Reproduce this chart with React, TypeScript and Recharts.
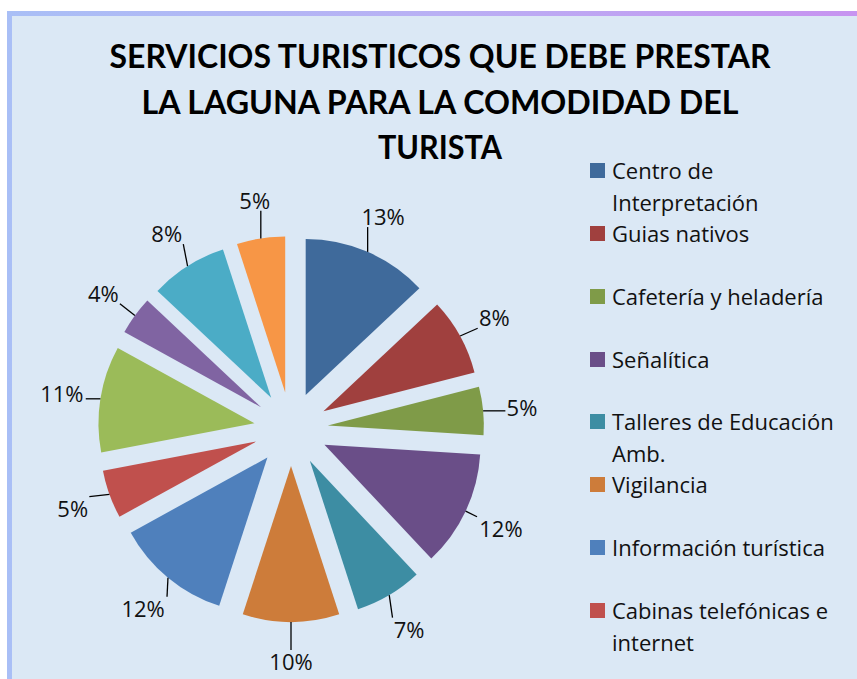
import React from "react"
import { PieChart, Pie, Cell, Sector, Legend } from "recharts"

// datos del gráfico
const legendNames = [
  "Centro de Interpretación",
  "Guias nativos",
  "Cafetería y heladería",
  "Señalítica",
  "Talleres de Educación Amb.",
  "Vigilancia",
  "Información turística",
  "Cabinas telefónicas e internet",
]

const sliceValues = [13, 8, 5, 12, 7, 10, 12, 5, 11, 4, 8, 5]

const sliceColors = [
  "#3f6a9b",
  "#a0403e",
  "#7f9b48",
  "#6a4e88",
  "#3d8da3",
  "#cd7c3a",
  "#4f80bc",
  "#c0504d",
  "#9bbb59",
  "#8064a2",
  "#4bacc6",
  "#f79646",
]

const titleLines = [
  "SERVICIOS TURISTICOS QUE DEBE PRESTAR",
  "LA LAGUNA PARA LA COMODIDAD DEL",
  "TURISTA",
]

const data = sliceValues.map((value, i) => ({
  name: legendNames[i] ?? `Servicio ${i + 1}`,
  value,
}))

const W = 857
const H = 679
const EXPLODE = 37
const LABEL_R = 232
const FONT = "'Open Sans', Lato, sans-serif"
const TITLE_FONT = "Lato, 'Open Sans', sans-serif"

const clamp = (v: number, lo: number, hi: number) => Math.max(lo, Math.min(hi, v))

// sector desplazado + línea guía + etiqueta
const renderSlice = (props: any) => {
  const { cx, cy, midAngle, outerRadius, startAngle, endAngle, fill, percent, index } = props
  const rad = (-midAngle * Math.PI) / 180
  const ux = Math.cos(rad)
  const uy = Math.sin(rad)
  const ex = cx + ux * (outerRadius + EXPLODE)
  const ey = cy + uy * (outerRadius + EXPLODE)
  const px = cx + ux * LABEL_R
  const py = cy + uy * LABEL_R
  const text = `${Math.round(percent * 100)}%`
  const hw = text.length * 7.3 + 2
  const hh = 11
  const lx = clamp(ex, px - hw, px + hw)
  const ly = clamp(ey, py - hh, py + hh)
  return (
    <g key={`slice-${index}`}>
      <Sector
        cx={cx + ux * EXPLODE}
        cy={cy + uy * EXPLODE}
        innerRadius={0}
        outerRadius={outerRadius}
        startAngle={startAngle}
        endAngle={endAngle}
        fill={fill}
        fillOpacity={1}
        stroke="none"
      />
      <line x1={ex} y1={ey} x2={lx} y2={ly} stroke="#000" strokeWidth={1.3} />
      <text
        x={px}
        y={py}
        textAnchor="middle"
        dominantBaseline="central"
        fontFamily={FONT}
        fontSize={22}
        fill="#111"
      >
        {text}
      </text>
    </g>
  )
}

const LEGEND_PITCH = 62.86

const renderLegend = (props: any) => {
  const { payload = [] } = props
  // se muestran solo las entradas visibles, en el orden de los datos
  const items = legendNames.map((name) => payload.find((p: any) => p.value === name)).filter(Boolean)
  return (
    <div style={{ position: "relative", width: 267, height: LEGEND_PITCH * legendNames.length }}>
      {items.map((entry: any, i: number) => (
        <div
          key={`legend-${i}`}
          style={{ position: "absolute", top: i * LEGEND_PITCH, left: 0, display: "flex", alignItems: "flex-start" }}
        >
          <span
            style={{
              width: 15,
              height: 15,
              marginTop: 9,
              marginRight: 7,
              flexShrink: 0,
              background: entry.color,
            }}
          />
          <span style={{ width: 240, fontFamily: FONT, fontSize: 22, lineHeight: "32px", color: "#111" }}>
            {entry.value}
          </span>
        </div>
      ))}
    </div>
  )
}

export default function App() {
  return (
    <div style={{ position: "absolute", left: 0, top: 0, width: W, height: H, overflow: "hidden", background: "#fff" }}>
      {/* marco */}
      <div
        style={{
          position: "absolute",
          left: 7,
          top: 11,
          width: W,
          height: H,
          background: "linear-gradient(90deg, #a9bff6 0%, #b9b0f4 50%, #c793f0 100%)",
        }}
      />
      <div
        style={{
          position: "absolute",
          left: 12,
          top: 16,
          width: W,
          height: H,
          background: "#dbe8f5",
        }}
      />
      <svg style={{ position: "absolute", left: 0, top: 0 }} width={W} height={H}>
        {titleLines.map((line, i) => (
          <text
            key={line}
            x={440}
            y={68 + i * 45.5}
            textAnchor="middle"
            fontFamily={TITLE_FONT}
            fontWeight={700}
            fontSize={32}
            fill="#000"
            textLength={[661, 597, 124][i]}
            lengthAdjust="spacingAndGlyphs"
          >
            {line}
          </text>
        ))}
      </svg>
      <div style={{ position: "absolute", left: 0, top: 0 }}>
        <PieChart width={W} height={H} margin={{ top: 0, right: 0, bottom: 0, left: 0 }}>
          <Pie
            data={data}
            dataKey="value"
            nameKey="name"
            cx={291}
            cy={429}
            outerRadius={156}
            startAngle={90}
            endAngle={-270}
            stroke="none"
            label={renderSlice}
            labelLine={false}
            isAnimationActive={false}
          >
            {data.map((entry, i) => (
              <Cell key={`cell-${i}`} fill={sliceColors[i]} fillOpacity={0} />
            ))}
          </Pie>
          <Legend
            layout="vertical"
            align="right"
            verticalAlign="top"
            content={renderLegend}
            wrapperStyle={{ left: 590, top: 154, width: 267 }}
          />
        </PieChart>
      </div>
    </div>
  )
}
